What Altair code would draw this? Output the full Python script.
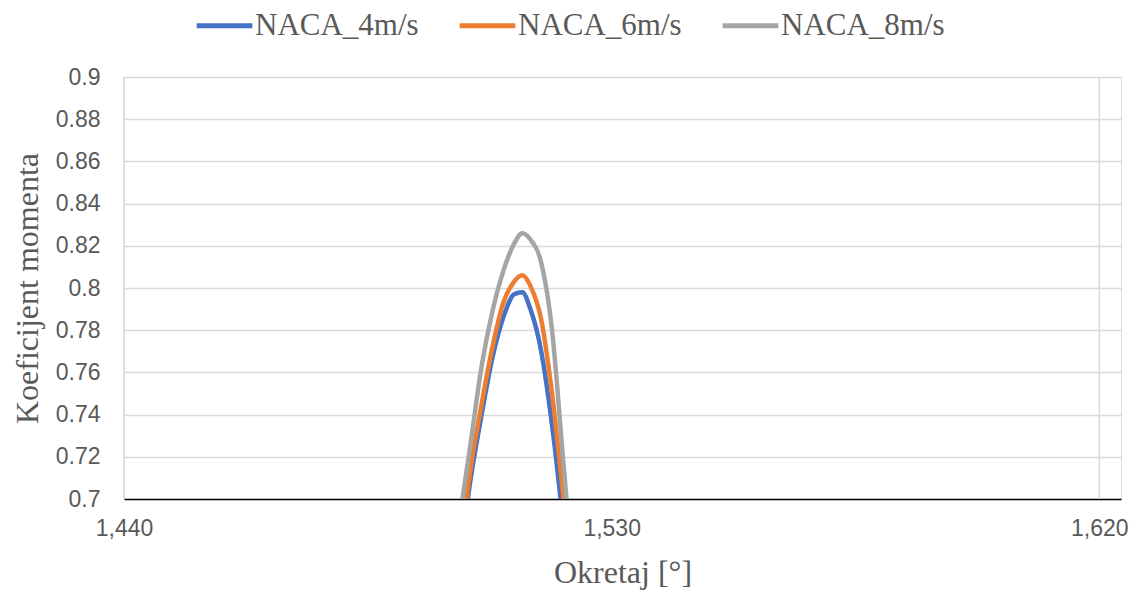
import altair as alt
import pandas as pd

# Rotation angle [deg]
okretaj = [1500, 1502, 1504, 1506, 1508, 1510, 1512, 1513.5, 1515, 1517, 1519, 1521, 1523]
naca_4 = [0.630, 0.672, 0.710, 0.740, 0.767, 0.786, 0.797, 0.798, 0.790, 0.770, 0.735, 0.690, 0.640]
naca_6 = [0.630, 0.675, 0.715, 0.745, 0.772, 0.793, 0.803, 0.806, 0.801, 0.785, 0.750, 0.703, 0.650]
naca_8 = [0.660, 0.692, 0.727, 0.763, 0.789, 0.808, 0.821, 0.826, 0.823, 0.812, 0.780, 0.720, 0.660]
series = ["NACA_4m/s", "NACA_6m/s", "NACA_8m/s"]
colors = ["#4472C4", "#ED7D31", "#A5A5A5"]
x_ticks = [1440, 1530, 1620]
x_grid = [1440, 1620]
y_ticks = [0.7, 0.72, 0.74, 0.76, 0.78, 0.8, 0.82, 0.84, 0.86, 0.88, 0.9]

rows = []
for name, vals in zip(series, [naca_4, naca_6, naca_8]):
    for x, v in zip(okretaj, vals):
        rows.append({"Okretaj": x, "value": v, "series": name})
df = pd.DataFrame(rows)
grid_df = pd.DataFrame({"Okretaj": x_grid})

W, H = 997, 422
xscale = alt.Scale(domain=[1440, 1624], nice=False, zero=False)
yscale = alt.Scale(domain=[0.7, 0.9], nice=False, zero=False)

xaxis = alt.Axis(values=x_ticks, format=",.0f", grid=False, ticks=False, tickSize=0,
                 domainColor="#000000", domainWidth=1.5, labelFlush=False,
                 labelFont="Liberation Sans", labelFontSize=23, labelColor="#595959",
                 labelPadding=18,
                 title="Okretaj [°]", titleFont="Liberation Serif", titleFontSize=32,
                 titleFontWeight="normal", titleColor="#595959",
                 titleY=73, titleBaseline="middle")

vgrid = alt.Chart(grid_df).mark_rule(color="#D9D9D9", strokeWidth=1.5).encode(
    x=alt.X("Okretaj:Q", scale=xscale, axis=xaxis)
)

lines = alt.Chart(df).mark_line(strokeWidth=4.5, clip=True, interpolate="monotone",
                                strokeCap="round").encode(
    x=alt.X("Okretaj:Q", scale=xscale, axis=xaxis),
    y=alt.Y("value:Q", scale=yscale,
            axis=alt.Axis(values=y_ticks, format=".2~f", grid=True, gridColor="#D9D9D9",
                          gridWidth=1.5, domain=False, ticks=False, tickSize=0,
                          labelFont="Liberation Sans", labelFontSize=23, labelColor="#595959",
                          labelPadding=24, labelFlush=False,
                          title="Koeficijent momenta", titleFont="Liberation Serif",
                          titleFontSize=32, titleFontWeight="normal", titleColor="#595959",
                          titleX=-97, titleY=H / 2, titleAlign="center",
                          titleBaseline="middle", titleAngle=270)),
    color=alt.Color("series:N", scale=alt.Scale(domain=series, range=colors),
                    legend=alt.Legend(title=None, orient="none", direction="horizontal",
                                      legendX=70, legendY=-82,
                                      symbolType="stroke", symbolSize=3100,
                                      symbolStrokeWidth=5, labelOffset=0,
                                      columnPadding=30, labelLimit=0,
                                      labelFont="Liberation Serif", labelFontSize=31,
                                      labelColor="#595959")),
)

chart = alt.layer(vgrid, lines).properties(
    width=W, height=H,
    autosize=alt.AutoSizeParams(type="none"),
    padding={"left": 116, "top": 69, "right": 10, "bottom": 92},
).configure_view(stroke=None).configure(background="white")

chart.save("out.html", embed_options={"renderer": "svg", "actions": False})
